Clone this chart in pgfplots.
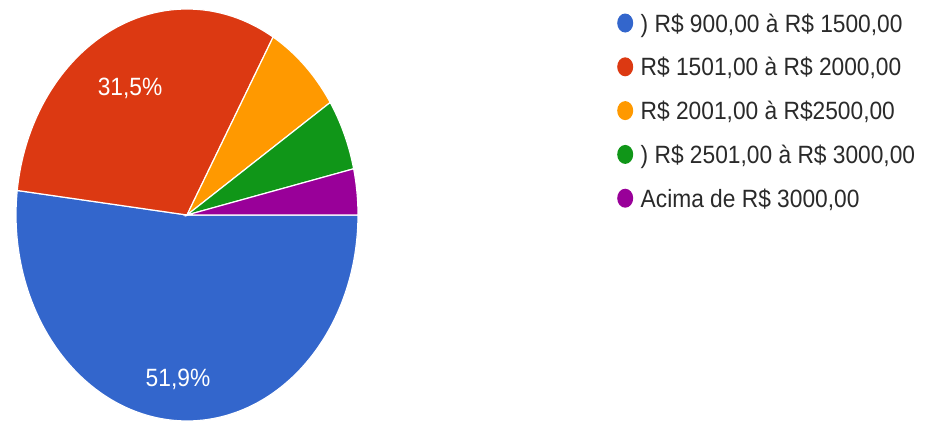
\documentclass[border=0pt]{standalone}
\usepackage{pgfplots}
\pgfplotsset{compat=1.18}
\usepackage{fontspec}
\setmainfont{Liberation Sans}[FakeStretch=0.91]
\definecolor{cblue}{HTML}{3366CC}
\definecolor{cred}{HTML}{DC3912}
\definecolor{corange}{HTML}{FF9900}
\definecolor{cgreen}{HTML}{109618}
\definecolor{cpurple}{HTML}{990099}
\definecolor{textgray}{HTML}{2A2A2A}
\newcommand\bigfont{\fontsize{25bp}{29bp}\selectfont}
% pie geometry (pixel space of the reference)
\def\cx{187}\def\cy{208}\def\rx{171}\def\ry{206}
\begin{document}
\begin{tikzpicture}
\begin{axis}[
  width=934bp, height=423bp, scale only axis,
  xmin=0, xmax=934, ymin=0, ymax=423,
  hide axis, clip=false,
  legend cell align=left,
  legend style={at={(0.6606,0.9685)}, anchor=north west, draw=none, fill=none,
    inner sep=0pt, row sep=24.8bp, column sep=0pt,
    nodes={inner sep=0pt, text height=18bp, text depth=0bp, font=\bigfont, text=textgray}},
  legend image code/.code={%
    \path[draw=none, fill=none] (0bp,-9.5bp) rectangle (23.5bp,9.5bp);
    \fill[#1, draw=none] (8bp,0bp) ellipse [x radius=8bp, y radius=9.5bp];},
]
% shares in percent: 51.9, 31.5, 7.4, 5.6, 3.7 (cumulative, clockwise from 3 o'clock)
\addplot[fill=cblue, draw=white, line width=1.2bp, domain=0:51.9, samples=120]
  ({\cx+\rx*cos(-3.6*x)},{\cy+\ry*sin(-3.6*x)}) -- (axis cs:\cx,\cy) -- cycle;
\addlegendentry{) R\$ 900,00 à R\$ 1500,00}
\addplot[fill=cred, draw=white, line width=1.2bp, domain=51.9:83.4, samples=80]
  ({\cx+\rx*cos(-3.6*x)},{\cy+\ry*sin(-3.6*x)}) -- (axis cs:\cx,\cy) -- cycle;
\addlegendentry{R\$ 1501,00 à R\$ 2000,00}
\addplot[fill=corange, draw=white, line width=1.2bp, domain=83.4:90.8, samples=30]
  ({\cx+\rx*cos(-3.6*x)},{\cy+\ry*sin(-3.6*x)}) -- (axis cs:\cx,\cy) -- cycle;
\addlegendentry{R\$ 2001,00 à R\$2500,00}
\addplot[fill=cgreen, draw=white, line width=1.2bp, domain=90.8:96.4, samples=25]
  ({\cx+\rx*cos(-3.6*x)},{\cy+\ry*sin(-3.6*x)}) -- (axis cs:\cx,\cy) -- cycle;
\addlegendentry{) R\$ 2501,00 à R\$ 3000,00}
\addplot[fill=cpurple, draw=white, line width=1.2bp, domain=96.4:100, samples=20]
  ({\cx+\rx*cos(-3.6*x)},{\cy+\ry*sin(-3.6*x)}) -- (axis cs:\cx,\cy) -- cycle;
\addlegendentry{Acima de R\$ 3000,00}
\node[text=white, font=\bigfont, inner sep=0pt] at (axis cs:130,335) {31,5\%};
\node[text=white, font=\bigfont, inner sep=0pt] at (axis cs:178,44) {51,9\%};
\end{axis}
\pgfresetboundingbox
\path (current axis.south west) rectangle (current axis.north east);
\end{tikzpicture}
\end{document}
